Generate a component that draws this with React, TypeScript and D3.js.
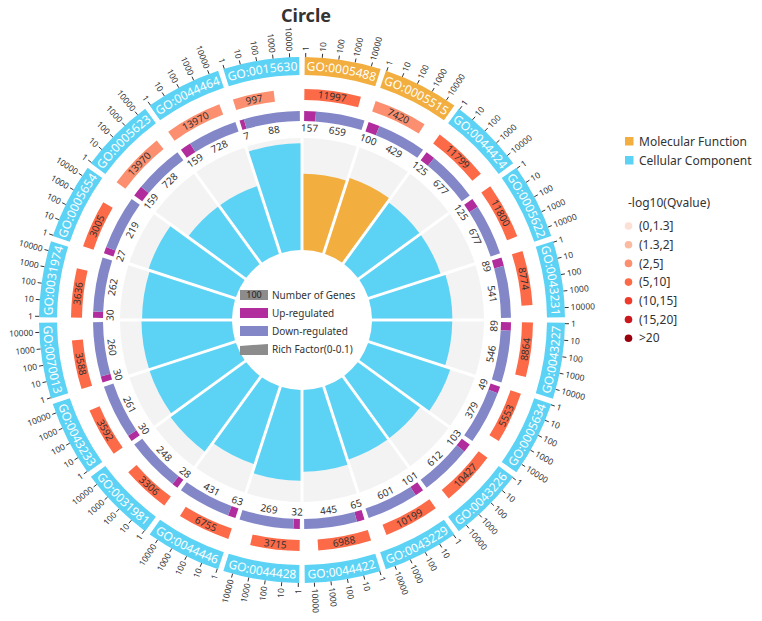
import React from 'react';
import * as d3 from 'd3';

// GO terms, clockwise from 12 o'clock
const goTerms = [
  'GO:0005488', 'GO:0005515', 'GO:0044424', 'GO:0005622', 'GO:0043231',
  'GO:0043227', 'GO:0005634', 'GO:0043226', 'GO:0043229', 'GO:0044422',
  'GO:0044428', 'GO:0044446', 'GO:0031981', 'GO:0043233', 'GO:0070013',
  'GO:0031974', 'GO:0005654', 'GO:0005623', 'GO:0044464', 'GO:0015630',
];
const ontology = [
  'MF', 'MF', 'CC', 'CC', 'CC', 'CC', 'CC', 'CC', 'CC', 'CC',
  'CC', 'CC', 'CC', 'CC', 'CC', 'CC', 'CC', 'CC', 'CC', 'CC',
];
const geneCounts = [11997, 7420, 11799, 11800, 8774, 8864, 5553, 10427, 10199, 6988, 3715, 6755, 3306, 3592, 3588, 3636, 3005, 13970, 13970, 997];
const upCounts = [157, 100, 125, 125, 89, 89, 49, 103, 101, 65, 32, 63, 28, 30, 30, 30, 27, 159, 159, 7];
const downCounts = [659, 429, 677, 677, 541, 546, 379, 612, 601, 445, 269, 431, 248, 261, 260, 262, 219, 728, 728, 88];
const negLogQ = [7, 3, 7, 7, 7, 7, 7, 7, 7, 7, 7, 7, 7, 7, 7, 7, 7, 3, 3, 3];

const axisTicks = [1, 10, 100, 1000, 10000];
const qBinLabels = ['(0,1.3]', '(1.3,2]', '(2,5]', '(5,10]', '(10,15]', '(15,20]', '>20'];
const qThresholds = [1.3, 2, 5, 10, 15, 20];
const qColors = ['#FDE0D5', '#FCBBA1', '#FC8F6F', '#FC6A48', '#EF3B2C', '#CB181D', '#99000D'];

const ontologyNames: Record<string, string> = { MF: 'Molecular Function', CC: 'Cellular Component' };
const ontologyColors: Record<string, string> = { MF: '#F2AE3E', CC: '#5CD3F5' };
const UP_COLOR = '#B12C9D';
const DOWN_COLOR = '#8387C7';

const W = 762, H = 621;
const CX = 302, CY = 320;
const R_IN = 70, R_RICH = 182;
const R3_IN = 199, R3_OUT = 209, R3_LABEL = 192;
const R2_IN = 220, R2_OUT = 231;
const R1_IN = 245, R1_OUT = 263;
const FONT = '"Noto Sans", "Liberation Sans", Arial, sans-serif';

const rad = (deg: number) => (deg * Math.PI) / 180;
const PAD = rad(0.6);

const band = d3.scaleBand<string>().domain(goTerms).range([0, 2 * Math.PI]);
const richScale = d3.scaleLinear().domain([0, 0.1]).range([R_IN, R_RICH]);
const qColor = d3.scaleThreshold<number, string>().domain(qThresholds).range(qColors);
// offsets inside a segment (log scale)
const tickOffset = d3.scaleLog().domain([1, 10000]).range([rad(0.8), rad(15.3)]);
const barOffset = d3.scaleLog().domain([1, 10000]).range([rad(0.3), rad(14.5)]);

const arc = d3.arc<any>();
const innerArc = d3.arc<any>().padAngle(0.03).padRadius(100);

const polar = (r: number, a: number): [number, number] => [r * Math.sin(a), -r * Math.cos(a)];

function tangentText(key: string, r: number, a: number, text: string | number, size: number, fill = '#333') {
  const [x, y] = polar(r, a);
  let deg = (a * 180) / Math.PI;
  if (deg > 90 && deg < 270) deg += 180;
  return (
    <text key={key} transform={`translate(${x},${y}) rotate(${deg})`} textAnchor="middle" dy="0.35em"
      fontSize={size} fill={fill}>{text}</text>
  );
}

const App: React.FC = () => {
  const step = band.bandwidth();

  return (
    <svg width={W} height={H} style={{ position: 'absolute', left: 0, top: 0, fontFamily: FONT }}>
      <text x={306} y={22} textAnchor="middle" fontSize={18} fontWeight="bold" fill="#333">Circle</text>

      <g transform={`translate(${CX},${CY})`}>
        <defs>
          {goTerms.map((t, i) => {
            const a0 = band(t)!, a1 = a0 + step;
            const mid = ((a0 + a1) / 2) * 180 / Math.PI;
            const flip = mid > 90 && mid < 270;
            const r = flip ? 258.5 : 249.5;
            const [sx, sy] = polar(r, flip ? a1 : a0);
            const [ex, ey] = polar(r, flip ? a0 : a1);
            return <path key={t} id={`go-arc-${i}`} d={`M${sx},${sy} A${r},${r} 0 0 ${flip ? 0 : 1} ${ex},${ey}`} />;
          })}
        </defs>

        {goTerms.map((t, i) => {
          const a0 = band(t)!, a1 = a0 + step;
          const color = ontologyColors[ontology[i]];
          const total = upCounts[i] + downCounts[i];
          const rich = total / geneCounts[i];
          const upEnd = a0 + PAD + (a1 - a0 - 2 * PAD) * (upCounts[i] / total);
          const barEnd = a0 + barOffset(geneCounts[i]);
          return (
            <g key={t}>
              {/* rich factor */}
              <path d={innerArc({ innerRadius: R_IN, outerRadius: R_RICH, startAngle: a0, endAngle: a1 })!} fill="#F3F3F3" />
              <path d={innerArc({ innerRadius: R_IN, outerRadius: richScale(rich), startAngle: a0, endAngle: a1 })!} fill={color} />

              {/* up / down */}
              <path d={arc({ innerRadius: R3_IN, outerRadius: R3_OUT, startAngle: a0 + PAD, endAngle: upEnd })!} fill={UP_COLOR} />
              <path d={arc({ innerRadius: R3_IN, outerRadius: R3_OUT, startAngle: upEnd, endAngle: a1 - PAD })!} fill={DOWN_COLOR} />
              {tangentText(`u${i}`, R3_LABEL, (a0 + PAD + upEnd) / 2, upCounts[i], 10)}
              {tangentText(`d${i}`, R3_LABEL, (upEnd + a1 - PAD) / 2, downCounts[i], 10)}

              {/* number of genes */}
              <path d={arc({ innerRadius: R2_IN, outerRadius: R2_OUT, startAngle: a0 + PAD, endAngle: barEnd })!} fill={qColor(negLogQ[i])} />
              {tangentText(`g${i}`, (R2_IN + R2_OUT) / 2, (a0 + PAD + barEnd) / 2, geneCounts[i], 10)}

              {/* GO term box */}
              <path d={arc({ innerRadius: R1_IN, outerRadius: R1_OUT, startAngle: a0 + PAD, endAngle: a1 - PAD })!} fill={color} />
              <text fontSize={12} fill="#fff">
                <textPath href={`#go-arc-${i}`} startOffset="50%" textAnchor="middle">{t}</textPath>
              </text>

              {/* log axis */}
              {axisTicks.map(v => {
                const a = a0 + tickOffset(v);
                const deg = (a * 180) / Math.PI;
                const [x1, y1] = polar(R1_OUT, a);
                const [x2, y2] = polar(R1_OUT + 4, a);
                const [tx, ty] = polar(R1_OUT + 6, a);
                const flip = deg > 180;
                return (
                  <g key={v}>
                    <line x1={x1} y1={y1} x2={x2} y2={y2} stroke="#333" strokeWidth={1} />
                    <text transform={`translate(${tx},${ty}) rotate(${flip ? deg + 90 : deg - 90})`}
                      textAnchor={flip ? 'end' : 'start'} dy="0.35em" fontSize={8.5} fill="#333">{v}</text>
                  </g>
                );
              })}
            </g>
          );
        })}
      </g>

      {/* center legend */}
      <g fontSize={10} fill="#333">
        <rect x={240} y={290} width={28} height={10} fill="#8C8C8C" />
        <text x={254} y={295} dy="0.35em" textAnchor="middle" fontSize={9} fill="#222">100</text>
        <text x={272} y={295} dy="0.35em">Number of Genes</text>
        <rect x={240} y={308} width={28} height={10} fill={UP_COLOR} />
        <text x={272} y={313} dy="0.35em">Up-regulated</text>
        <rect x={240} y={326} width={28} height={10} fill={DOWN_COLOR} />
        <text x={272} y={331} dy="0.35em">Down-regulated</text>
        <path d="M240,346 L268,344 L268,355 L240,355 Z" fill="#8C8C8C" />
        <text x={272} y={349} dy="0.35em">Rich Factor(0-0.1)</text>
      </g>

      {/* right legend */}
      <g fontSize={12} fill="#333">
        {['MF', 'CC'].map((k, i) => (
          <g key={k} transform={`translate(625,${137 + i * 19})`}>
            <rect width={8.5} height={8.5} fill={ontologyColors[k]} />
            <text x={14} y={4.5} dy="0.35em">{ontologyNames[k]}</text>
          </g>
        ))}
        <text x={628} y={203} dy="0.35em">-log10(Qvalue)</text>
        {qBinLabels.map((l, i) => (
          <g key={l} transform={`translate(628.5,${226 + i * 18.7})`}>
            <circle r={3.8} fill={qColors[i]} />
            <text x={10.5} dy="0.35em">{l}</text>
          </g>
        ))}
      </g>
    </svg>
  );
};

export default App;
